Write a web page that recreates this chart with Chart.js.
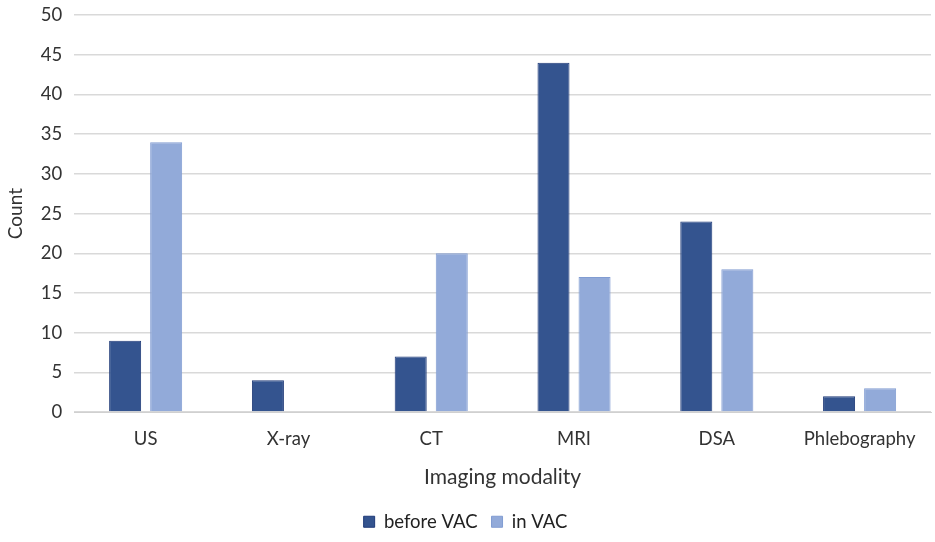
<!DOCTYPE html>
<html>
<head>
<meta charset="utf-8">
<script src="https://cdn.jsdelivr.net/npm/chart.js@4"></script>
<style>
  html, body { margin: 0; padding: 0; background: #fff; overflow: hidden; }
  #wrap { width: 935px; height: 542px; overflow: hidden; }
  #modalityChart { display: block; margin-top: -8px; }
</style>
</head>
<body>
<div id="wrap"><canvas id="modalityChart" width="935" height="550"></canvas></div>
<script>
const categories = ['US', 'X-ray', 'CT', 'MRI', 'DSA', 'Phlebography'];
const beforeVac = [9, 4, 7, 44, 24, 2];
const inVac = [34, 0, 20, 17, 18, 3];

const fontFamily = "Lato, 'Open Sans', sans-serif";

const ctx = document.getElementById('modalityChart').getContext('2d');
new Chart(ctx, {
    type: 'bar',
    data: {
        labels: categories,
        datasets: [{
            label: 'before VAC',
            data: beforeVac,
            backgroundColor: '#34548F',
            borderColor: '#1F3A78',
            borderWidth: 1,
            barPercentage: 0.78,
            categoryPercentage: 0.575
        }, {
            label: 'in VAC',
            data: inVac,
            backgroundColor: '#92AAD9',
            borderColor: '#819CD2',
            borderWidth: 1,
            barPercentage: 0.78,
            categoryPercentage: 0.575
        }]
    },
    options: {
        responsive: false,
        animation: false,
        layout: { padding: { top: 0, right: 4, left: 0, bottom: 1 } },
        plugins: {
            legend: {
                position: 'bottom',
                labels: {
                    boxWidth: 11,
                    boxHeight: 11,
                    padding: 14,
                    color: '#222',
                    font: { family: fontFamily, size: 18.5 }
                }
            },
            tooltip: { enabled: false }
        },
        scales: {
            x: {
                grid: { display: false },
                border: { color: '#d0d0d0' },
                ticks: { color: '#333', font: { family: fontFamily, size: 18.5 }, padding: 8 },
                title: {
                    display: true,
                    text: 'Imaging modality',
                    color: '#333',
                    font: { family: fontFamily, size: 21 },
                    padding: { top: 6, bottom: 9 }
                }
            },
            y: {
                min: 0,
                max: 50,
                ticks: { stepSize: 5, color: '#333', font: { family: fontFamily, size: 18.5 }, padding: 12 },
                grid: { color: '#d9d9d9', lineWidth: 1.5, drawTicks: false },
                border: { display: false },
                title: {
                    display: true,
                    text: 'Count',
                    color: '#333',
                    font: { family: fontFamily, size: 19 },
                    padding: { bottom: 2 }
                }
            }
        }
    }
});
</script>
</body>
</html>
